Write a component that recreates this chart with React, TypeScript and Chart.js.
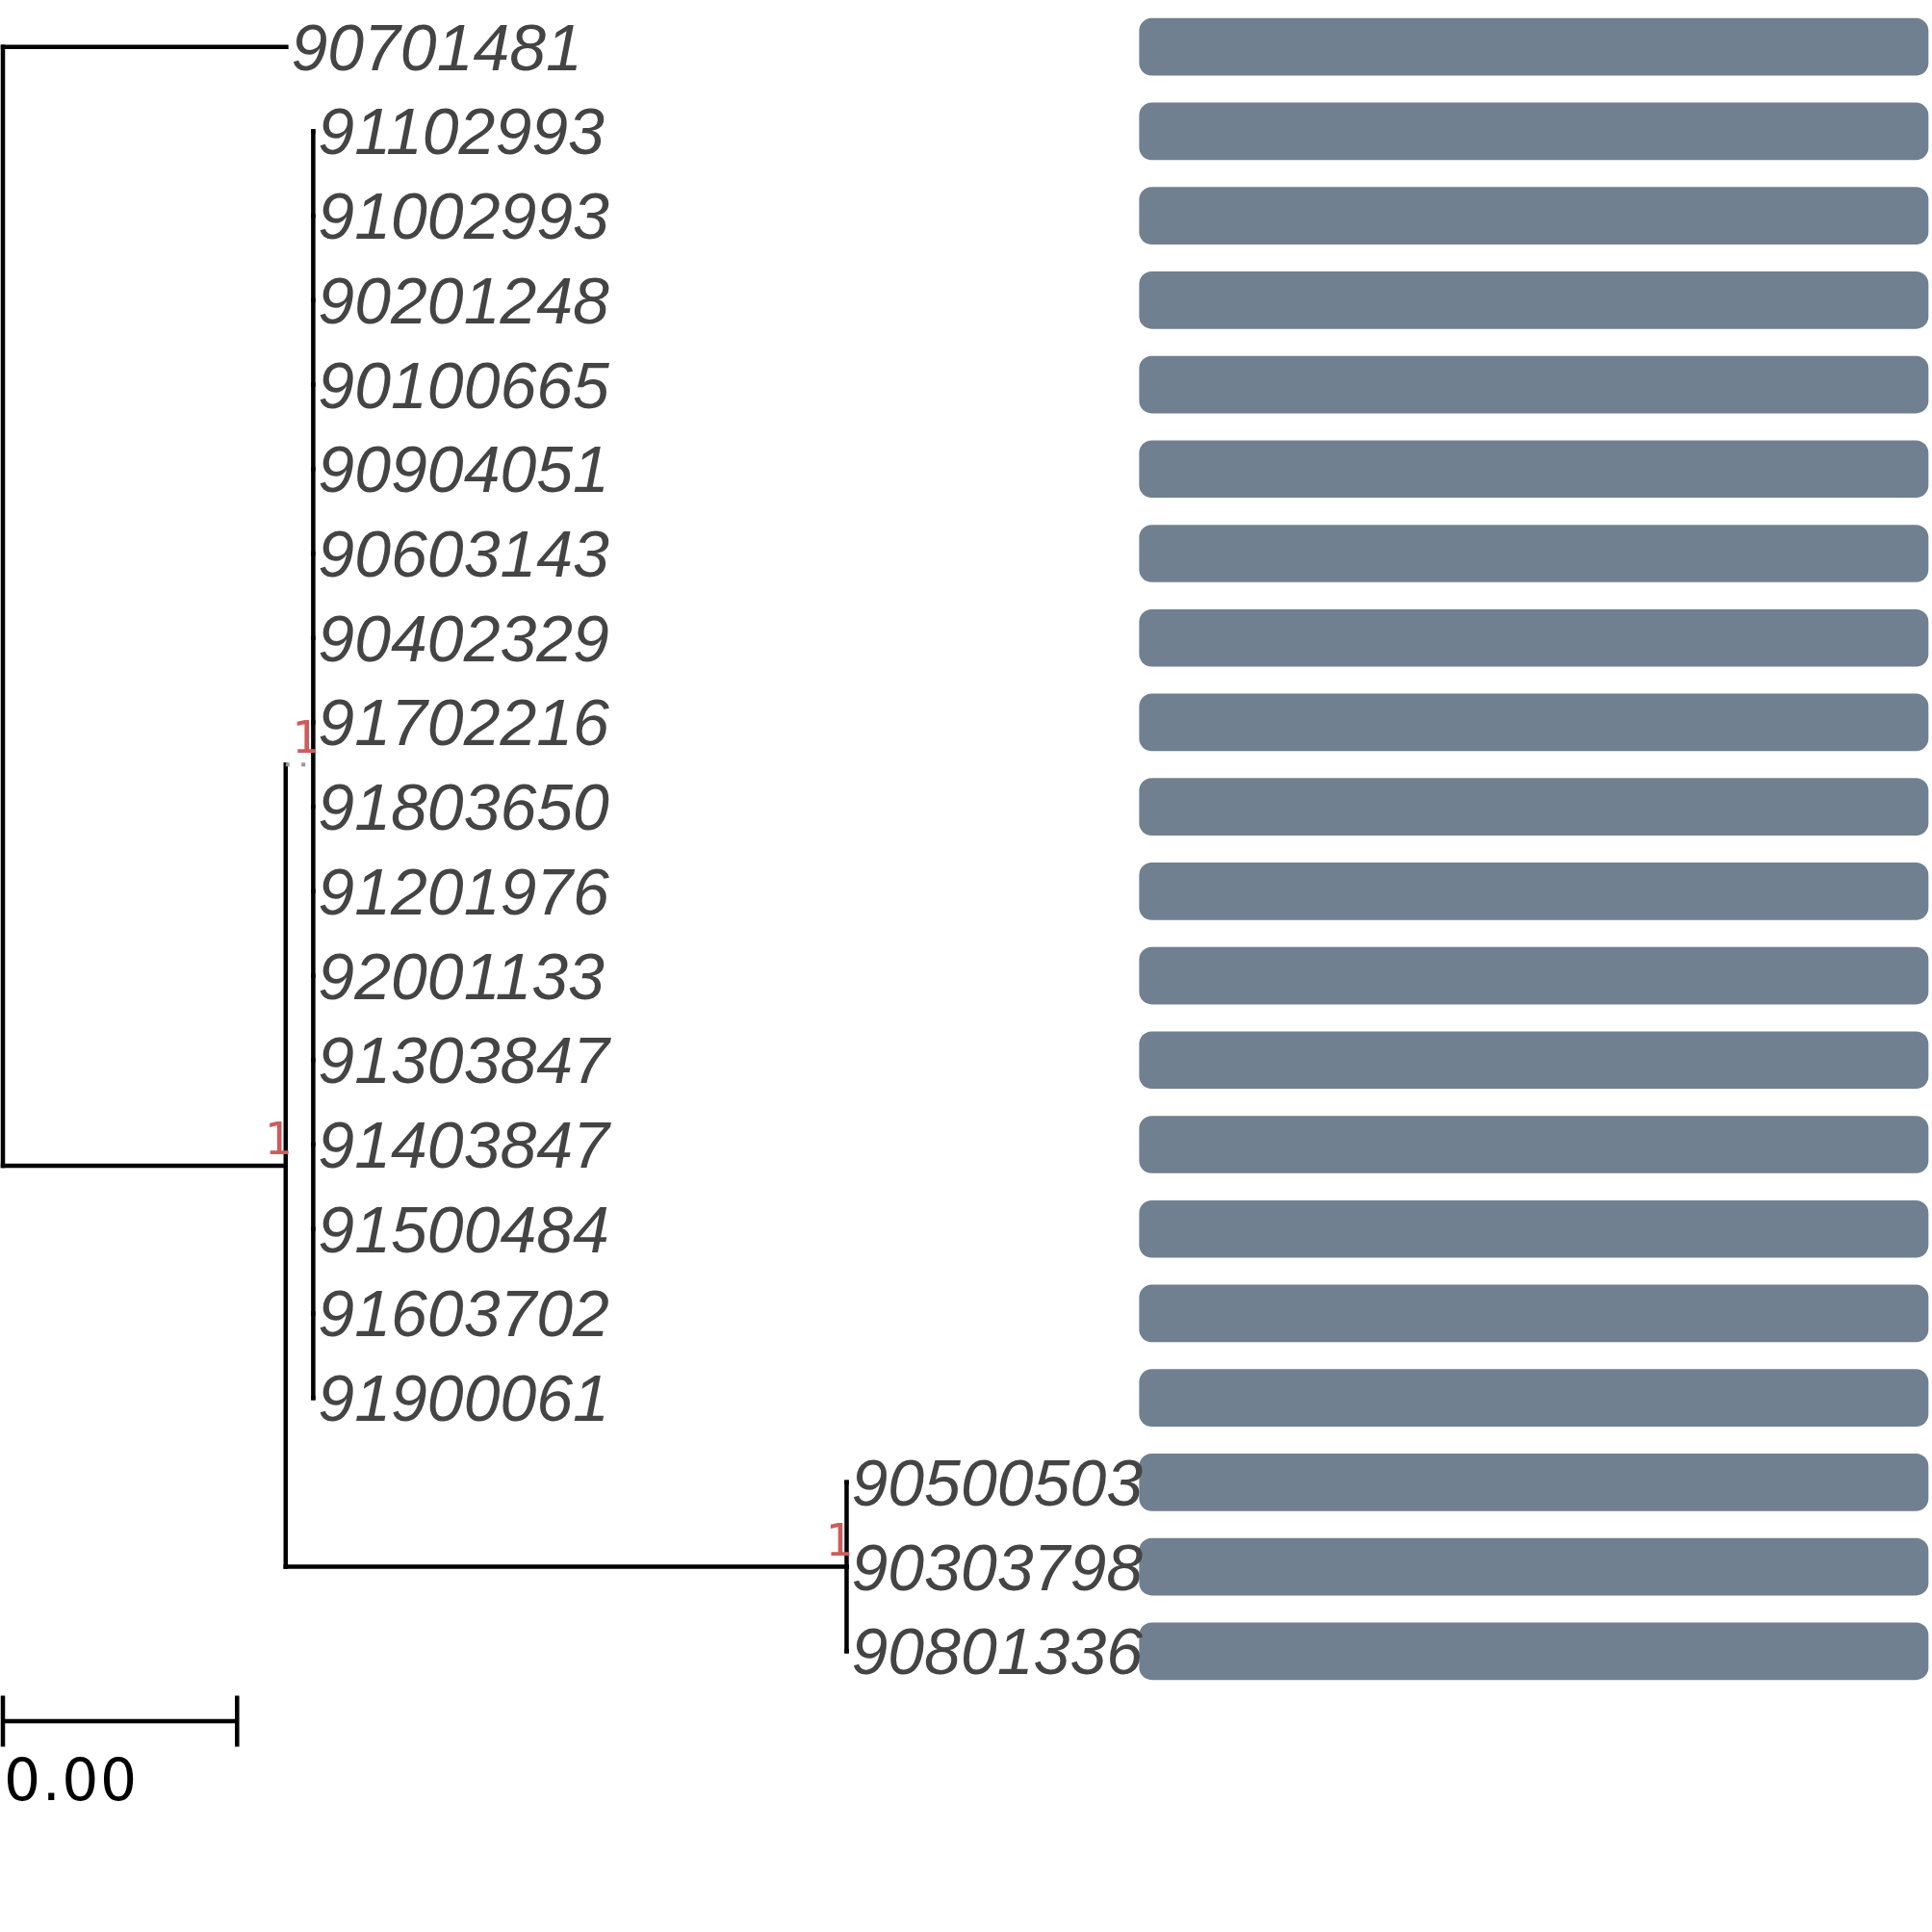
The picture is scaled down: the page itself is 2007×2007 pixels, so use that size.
import { useEffect, useRef } from "react";
import { Chart, registerables } from "chart.js";

Chart.register(...registerables);

// ---------- data ----------
const tipLabels = [
  "90701481", "91102993", "91002993", "90201248", "90100665",
  "90904051", "90603143", "90402329", "91702216", "91803650",
  "91201976", "92001133", "91303847", "91403847", "91500484",
  "91603702", "91900061", "90500503", "90303798", "90801336",
];
const tipParent = [
  "root", "B", "B", "B", "B", "B", "B", "B", "B", "B",
  "B", "B", "B", "B", "B", "B", "B", "C", "C", "C",
];
const tipX = [
  0.00484, 0.0053, 0.0053, 0.0053, 0.0053, 0.0053, 0.0053, 0.0053, 0.0053, 0.0053,
  0.0053, 0.0053, 0.0053, 0.0053, 0.0053, 0.0053, 0.0053, 0.01441, 0.01441, 0.01441,
];
const nodeIds = ["root", "A", "B", "C"];
const nodeParent = [null, "root", "A", "A"];
const nodeX = [0, 0.00483, 0.0053, 0.01441];
const nodeSupport = [null, 1, 1, 1];
const dottedEdges = ["B"];
const barValues = [1, 1, 1, 1, 1, 1, 1, 1, 1, 1, 1, 1, 1, 1, 1, 1, 1, 1, 1, 1];
const scaleBarLength = 0.004;
const scaleBarLabel = "0.00";

// ---------- layout (axis ranges) ----------
const U = scaleBarLength / 243.3;
const X_MIN = -3 * U;
const X_MAX = X_MIN + 2007 * U;
const ROW = 87.716;
const Y_MIN = -48.7 / ROW;
const Y_MAX = Y_MIN + 2007 / ROW;
const BAR_MIN = -1183.7 / 819.3;
const BAR_MAX = BAR_MIN + 2007 / 819.3;
const SCALE_Y = 1788 / ROW + Y_MIN;
const SCALE_TICK = 26.5 / ROW;
const SCALE_LABEL_Y = 1870 / ROW + Y_MIN;

function buildTree() {
  const nodeY: Record<string, number> = {};
  const childrenY: Record<string, number[]> = {};
  const childX: Record<string, number> = {};
  nodeIds.forEach((id, k) => (childX[id] = nodeX[k]));
  tipParent.forEach((p, i) => {
    (childrenY[p] = childrenY[p] || []).push(i);
  });
  const resolve = (id: string): number => {
    if (nodeY[id] !== undefined) return nodeY[id];
    const ys = [...(childrenY[id] || [])];
    nodeIds.forEach((c, k) => {
      if (nodeParent[k] === id) ys.push(resolve(c));
    });
    childrenY[id] = ys;
    nodeY[id] = (Math.min(...ys) + Math.max(...ys)) / 2;
    return nodeY[id];
  };
  nodeIds.forEach((id) => resolve(id));
  return { nodeY, childrenY, childX };
}

export default function App() {
  const ref = useRef<HTMLCanvasElement>(null);
  useEffect(() => {
    if (!ref.current) return;
    const { nodeY, childrenY, childX } = buildTree();
    const base = {
      type: "line" as const,
      xAxisID: "x",
      yAxisID: "y",
      borderColor: "#000000",
      borderWidth: 4.5,
      pointRadius: 0,
      pointHoverRadius: 0,
      fill: false,
      tension: 0,
      borderCapStyle: "square" as const,
      borderJoinStyle: "miter" as const,
      order: 0,
    };
    const lines: any[] = [];
    tipParent.forEach((p, i) => {
      lines.push({ ...base, data: [{ x: childX[p], y: i }, { x: tipX[i], y: i }] });
    });
    nodeIds.forEach((id, k) => {
      const p = nodeParent[k];
      if (!p) return;
      const dotted = dottedEdges.includes(id);
      lines.push({
        ...base,
        borderColor: dotted ? "#999999" : "#000000",
        borderDash: dotted ? [4, 12.4] : [],
        borderWidth: dotted ? 4 : 4.5,
        borderCapStyle: dotted ? "butt" : "square",
        data: [{ x: childX[p], y: nodeY[id] }, { x: nodeX[k], y: nodeY[id] }],
      });
    });
    nodeIds.forEach((id, k) => {
      const ys = childrenY[id];
      lines.push({
        ...base,
        data: [{ x: nodeX[k], y: Math.min(...ys) }, { x: nodeX[k], y: Math.max(...ys) }],
      });
    });
    lines.push({ ...base, borderCapStyle: "butt", data: [{ x: 0, y: SCALE_Y }, { x: scaleBarLength, y: SCALE_Y }] });
    lines.push({ ...base, borderCapStyle: "butt", data: [{ x: 0, y: SCALE_Y - SCALE_TICK }, { x: 0, y: SCALE_Y + SCALE_TICK }] });
    lines.push({
      ...base,
      borderCapStyle: "butt",
      data: [{ x: scaleBarLength, y: SCALE_Y - SCALE_TICK }, { x: scaleBarLength, y: SCALE_Y + SCALE_TICK }],
    });

    const labelPlugin = {
      id: "treeLabels",
      afterDatasetsDraw(chart: any) {
        const { ctx } = chart;
        const xs = chart.scales.x;
        const ys = chart.scales.y;
        ctx.save();
        ctx.textBaseline = "alphabetic";
        ctx.font = 'italic 68px "Liberation Sans"';
        ctx.fillStyle = "#444444";
        ctx.textAlign = "left";
        tipLabels.forEach((t, i) => {
          ctx.fillText(t, xs.getPixelForValue(tipX[i]) + 5, ys.getPixelForValue(i) + 24);
        });
        ctx.font = '47px "DejaVu Sans Mono"';
        ctx.fillStyle = "#CD5C5C";
        ctx.textAlign = "right";
        nodeIds.forEach((id, k) => {
          const s = nodeSupport[k];
          if (s === null) return;
          ctx.fillText(String(s), xs.getPixelForValue(nodeX[k]) + 6, ys.getPixelForValue(nodeY[id]) - 12);
        });
        ctx.font = '60px "DejaVu Sans"';
        ctx.fillStyle = "#000000";
        ctx.textAlign = "left";
        try {
          (ctx as any).letterSpacing = "1.5px";
        } catch (e) {}
        ctx.fillText(scaleBarLabel, xs.getPixelForValue(0) + 1, ys.getPixelForValue(SCALE_LABEL_Y));
        ctx.restore();
      },
    };

    const chart = new Chart(ref.current, {
      type: "bar",
      data: {
        datasets: [
          {
            type: "bar",
            xAxisID: "x2",
            yAxisID: "y",
            data: barValues.map((v, i) => ({ x: v, y: i })),
            backgroundColor: "#708090",
            borderWidth: 0,
            borderRadius: 13,
            borderSkipped: false,
            barThickness: 59,
            order: 1,
          } as any,
          ...lines,
        ],
      },
      options: {
        indexAxis: "y",
        responsive: false,
        animation: false,
        devicePixelRatio: 1,
        layout: { padding: 0 },
        plugins: { legend: { display: false }, tooltip: { enabled: false } },
        events: [],
        scales: {
          x: { type: "linear", axis: "x", display: false, min: X_MIN, max: X_MAX, offset: false },
          x2: { type: "linear", axis: "x", display: false, min: BAR_MIN, max: BAR_MAX, offset: false },
          y: { type: "linear", axis: "y", display: false, reverse: true, min: Y_MIN, max: Y_MAX, offset: false },
        },
      } as any,
      plugins: [labelPlugin],
    });
    return () => chart.destroy();
  }, []);
  return (
    <div style={{ position: "absolute", left: 0, top: 0, width: 2007, height: 2007, background: "#fff" }}>
      <canvas ref={ref} width={2007} height={2007} style={{ width: 2007, height: 2007, display: "block" }} />
    </div>
  );
}
